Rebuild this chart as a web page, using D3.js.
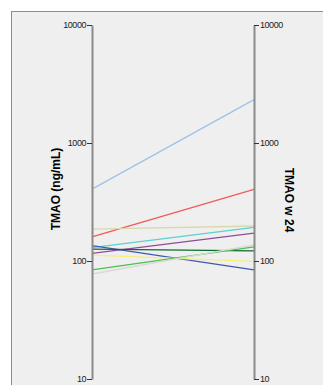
<!DOCTYPE html>
<html>
<head>
<meta charset="utf-8">
<script src="https://cdn.jsdelivr.net/npm/d3@7/dist/d3.min.js"></script>
<style>
  html, body { margin: 0; padding: 0; background: #ffffff; }
  svg { display: block; }
</style>
</head>
<body>
<svg id="chart" width="323" height="385"></svg>
<script>
// Paired TMAO measurements: baseline (left axis) vs week 24 (right axis)
const subjects = ["s1", "s2", "s3", "s4", "s5", "s6", "s7", "s8", "s9", "s10"];
const baseline = [407, 160, 186, 130, 116, 135, 126, 112, 84, 77.6];
const week24   = [2330, 405, 198, 193, 172, 84, 122, 99.4, 131.5, 137];
const lineColors = ["#9ec3e8", "#f4585a", "#d9d8ae", "#5ccfd0", "#8c4c9c",
                    "#3f58b8", "#0e6a2e", "#f4ef7c", "#4cc04e", "#d8d8d8"];
const tickValues = [10, 100, 1000, 10000];
const leftTitle = "TMAO (ng/mL)";
const rightTitle = "TMAO w 24";

const svg = d3.select("#chart");

// panel background
svg.append("rect")
  .attr("x", 11.5).attr("y", 11.5)
  .attr("width", 340).attr("height", 400)
  .attr("fill", "#efefef")
  .attr("stroke", "#8c8c8c")
  .attr("stroke-width", 1);

const xLeft = 92, xRight = 254;
const y = d3.scaleLog().domain([10, 10000]).range([379, 25]);

// connecting lines
const rows = subjects.map((s, i) => ({ id: s, a: baseline[i], b: week24[i], c: lineColors[i] }));
svg.append("g").selectAll("line").data(rows).join("line")
  .attr("x1", xLeft).attr("x2", xRight)
  .attr("y1", d => y(d.a)).attr("y2", d => y(d.b))
  .attr("stroke", d => d.c)
  .attr("stroke-width", 1.3);

function styleAxis(g) {
  g.select(".domain").attr("stroke", "#8a8a8a").attr("stroke-width", 2);
  g.selectAll(".tick line").attr("stroke", "#333").attr("stroke-width", 1);
  g.selectAll(".tick text")
    .attr("fill", "#222")
    .style("font-family", "Arial, 'Liberation Sans', sans-serif")
    .style("font-size", "9px")
    .style("letter-spacing", "-0.45px");
}

const axL = d3.axisLeft(y).tickValues(tickValues).tickFormat(d3.format("d"))
  .tickSizeInner(5).tickSizeOuter(0).tickPadding(1);
svg.append("g").attr("transform", `translate(${xLeft},0)`).call(axL).call(styleAxis);

const axR = d3.axisRight(y).tickValues(tickValues).tickFormat(d3.format("d"))
  .tickSizeInner(5).tickSizeOuter(0).tickPadding(1);
svg.append("g").attr("transform", `translate(${xRight},0)`).call(axR).call(styleAxis);

// axis titles
svg.append("text")
  .attr("transform", "translate(60,189) rotate(-90)")
  .attr("text-anchor", "middle")
  .style("font-family", "Arial, 'Liberation Sans', sans-serif")
  .style("font-weight", "bold").style("font-size", "12px")
  .attr("fill", "#000")
  .text(leftTitle);

svg.append("text")
  .attr("transform", "translate(285,200) rotate(90)")
  .attr("text-anchor", "middle")
  .style("font-family", "Arial, 'Liberation Sans', sans-serif")
  .style("font-weight", "bold").style("font-size", "12px")
  .attr("fill", "#000")
  .text(rightTitle);
</script>
</body>
</html>
